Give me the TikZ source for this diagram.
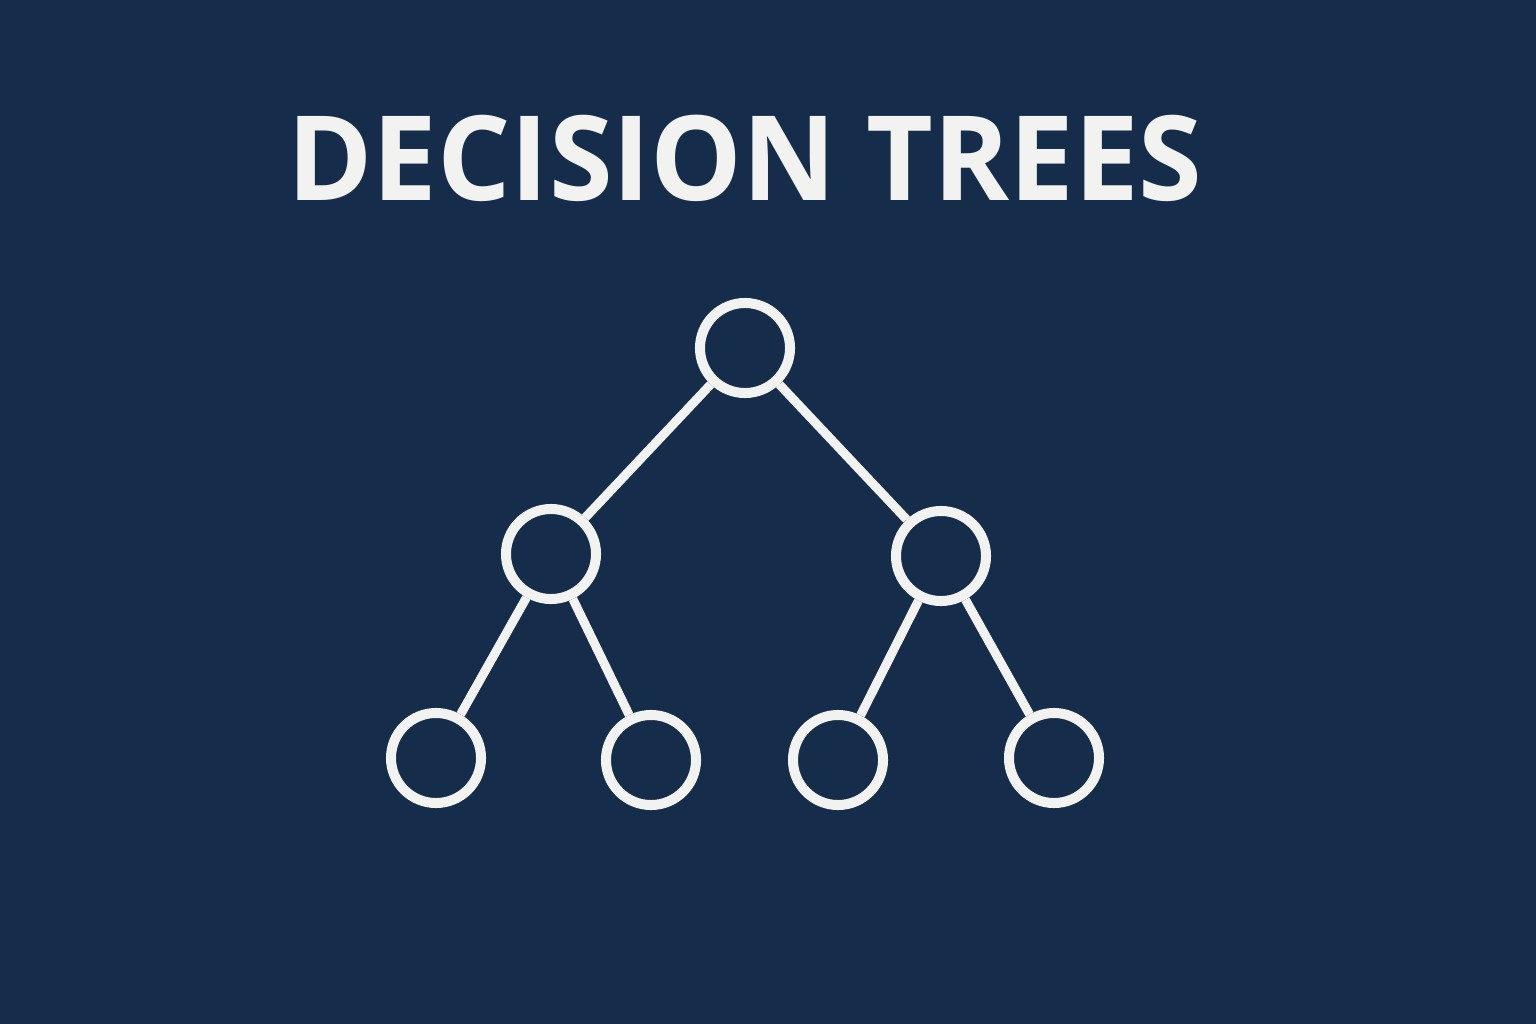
\documentclass[tikz,border=0pt]{standalone}
\usepackage{fontspec}
\setmainfont{Open Sans}
\definecolor{navy}{HTML}{152D4A}
\definecolor{chalk}{HTML}{F2F2F0}

\begin{document}
\begin{tikzpicture}[x=0.01cm, y=-0.01cm, vertex/.style={circle, draw=chalk, line width=0.1cm, minimum size=0.9cm, inner sep=0pt}, branch/.style={draw=chalk, line width=0.09cm}, title/.style={text=chalk, font=\fontsize{33.5}{36}\selectfont\bfseries}]

\fill[navy] (0,0) rectangle (1536,1024); \useasboundingbox (0,0) rectangle (1536,1024);
\node[title, xscale=0.98] (heading) at (745,158) {DECISION TREES};
\node[vertex] (root) at (745,348) {}; \node[vertex] (L) at (551,554) {}; \node[vertex] (R) at (941,556) {};
\node[vertex] (LL) at (436,758) {}; \node[vertex] (LR) at (651,760) {}; \node[vertex] (RL) at (838,760) {}; \node[vertex] (RR) at (1054,758) {};
\draw[branch] (root)--(L); \draw[branch] (root)--(R); \draw[branch] (L)--(LL); \draw[branch] (L)--(LR); \draw[branch] (R)--(RL); \draw[branch] (R)--(RR);
\end{tikzpicture}
\end{document}
